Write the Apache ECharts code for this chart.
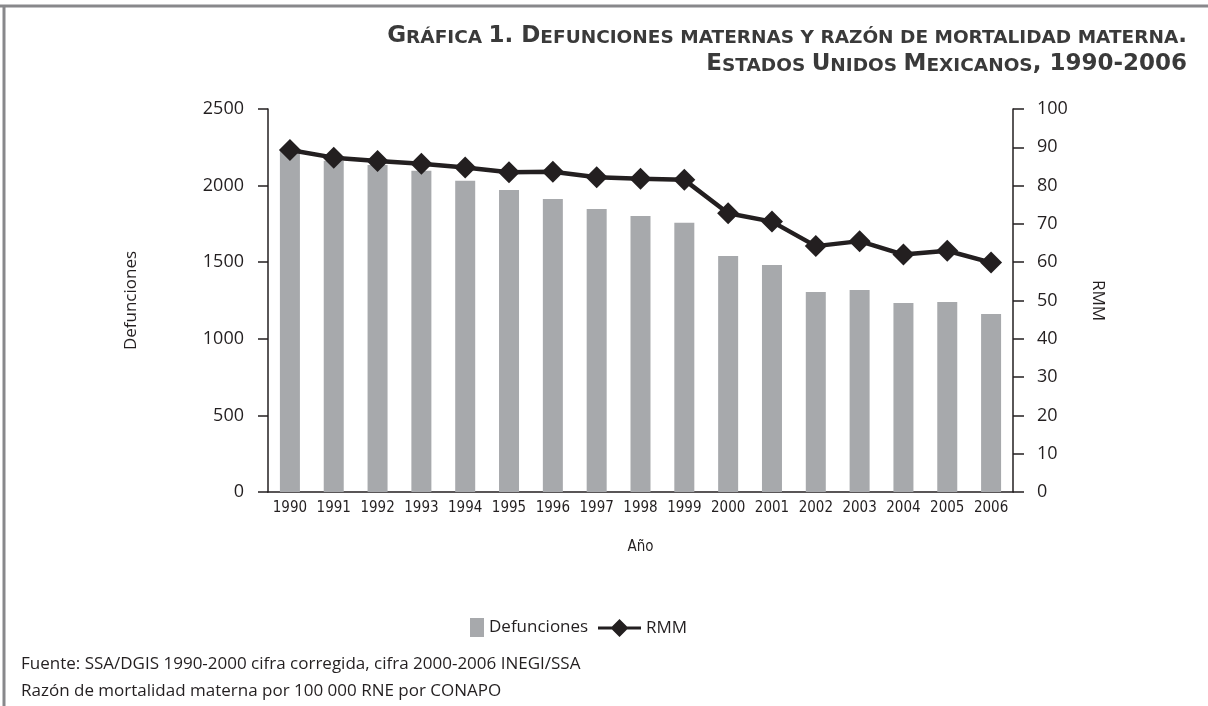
<!DOCTYPE html>
<html>
<head>
<meta charset="utf-8">
<script src="https://cdn.jsdelivr.net/npm/echarts@6/dist/echarts.min.js"></script>
<style>
html,body{margin:0;padding:0;background:#fff;}
#chart{width:1208px;height:706px;}
</style>
</head>
<body>
<div id="chart"></div>
<script>
// ---- data ----
const years = ['1990','1991','1992','1993','1994','1995','1996','1997','1998','1999','2000','2001','2002','2003','2004','2005','2006'];
const defunciones = [2232, 2162, 2134, 2097, 2032, 1971, 1912, 1847, 1801, 1758, 1540, 1481, 1305, 1318, 1233, 1240, 1162];
const rmm = [89.3, 87.3, 86.4, 85.7, 84.7, 83.5, 83.6, 82.2, 81.8, 81.5, 72.8, 70.6, 64.2, 65.5, 62.0, 63.0, 59.9];
const leftAxisRange = [0, 2500];
const leftAxisStep = 500;
const rightAxisRange = [0, 100];
const rightAxisStep = 10;
const titleLines = ['Gráfica 1. Defunciones maternas y razón de mortalidad materna.', 'Estados Unidos Mexicanos, 1990-2006'];
const sourceLines = ['Fuente: SSA/DGIS 1990-2000 cifra corregida, cifra 2000-2006 INEGI/SSA', 'Razón de mortalidad materna por 100 000 RNE por CONAPO'];

// small caps builder for rich text
function smallCaps(line) {
  let out = '', cur = null, buf = '';
  for (const ch of line) {
    const isLower = ch !== ch.toUpperCase();
    const st = isLower ? 's' : (ch === ' ' ? (cur || 's') : 'c');
    if (st !== cur && buf) { out += '{' + cur + '|' + buf + '}'; buf = ''; }
    cur = st; buf += ch.toUpperCase();
  }
  if (buf) out += '{' + cur + '|' + buf + '}';
  return out;
}

const INK = '#231f20';
const FONT = "'Open Sans', 'Noto Sans', sans-serif";
const NARROW = "'Liberation Sans Narrow', 'DejaVu Sans Condensed', 'Open Sans', sans-serif";
const TFONT = "'DejaVu Sans', sans-serif";

const chart = echarts.init(document.getElementById('chart'), null, {renderer: 'canvas'});
chart.setOption({
  animation: false,
  backgroundColor: '#ffffff',
  title: {
    text: titleLines.map(smallCaps).join('\n'),
    left: 1187,
    top: 20,
    textAlign: 'right',
    padding: 0,
    textStyle: {
      rich: {
        c: {fontFamily: TFONT, fontWeight: 'bold', fontSize: 23, color: '#3a3a3a', lineHeight: 28, verticalAlign: 'bottom'},
        s: {fontFamily: TFONT, fontWeight: 'bold', fontSize: 18.5, color: '#3a3a3a', lineHeight: 28, verticalAlign: 'bottom'}
      }
    }
  },
  grid: {left: 268, right: 195, top: 109, bottom: 214, containLabel: false},
  legend: [
    {
      data: [{name: 'Defunciones', icon: 'rect'}], left: 470, top: 618, padding: 0, itemWidth: 14, itemHeight: 19,
      textStyle: {fontFamily: FONT, fontSize: 17, color: INK}
    },
    {
      data: [{name: 'RMM', icon: 'path://M0,7.5 H14 L21.5,0 L29,7.5 H43 V10.5 H29 L21.5,18 L14,10.5 H0 Z'}],
      left: 598, top: 619, padding: 0, itemWidth: 43, itemHeight: 18,
      textStyle: {fontFamily: FONT, fontSize: 17, color: INK}
    }
  ],
  xAxis: {
    type: 'category',
    data: years,
    boundaryGap: true,
    name: 'Año',
    nameLocation: 'middle',
    nameGap: 48,
    nameTextStyle: {fontFamily: NARROW, fontSize: 15, color: INK},
    axisLine: {lineStyle: {color: INK, width: 1.5}},
    axisTick: {show: false},
    axisLabel: {fontFamily: NARROW, fontSize: 15, color: INK, margin: 9, interval: 0}
  },
  yAxis: [
    {
      type: 'value',
      position: 'left',
      min: leftAxisRange[0], max: leftAxisRange[1], interval: leftAxisStep,
      name: 'Defunciones',
      nameLocation: 'middle',
      nameGap: 128,
      nameTextStyle: {fontFamily: FONT, fontSize: 17, color: INK},
      axisLine: {show: true, lineStyle: {color: INK, width: 1.5}},
      axisTick: {show: true, length: 10, lineStyle: {color: INK, width: 1.5}},
      axisLabel: {fontFamily: FONT, fontSize: 18, color: INK, margin: 24, formatter: v => String(v)},
      splitLine: {show: false}
    },
    {
      type: 'value',
      position: 'right',
      min: rightAxisRange[0], max: rightAxisRange[1], interval: rightAxisStep,
      name: 'RMM',
      nameLocation: 'middle',
      nameRotate: -90,
      nameGap: 76,
      nameTextStyle: {fontFamily: FONT, fontSize: 17, color: INK},
      axisLine: {show: true, lineStyle: {color: INK, width: 1.5}},
      axisTick: {show: true, length: 11, lineStyle: {color: INK, width: 1.5}},
      axisLabel: {fontFamily: FONT, fontSize: 18, color: INK, margin: 24, formatter: v => String(v)},
      splitLine: {show: false}
    }
  ],
  series: [
    {
      name: 'Defunciones',
      type: 'bar',
      yAxisIndex: 0,
      data: defunciones,
      barWidth: 20,
      itemStyle: {color: '#a7a9ac'}
    },
    {
      name: 'RMM',
      type: 'line',
      yAxisIndex: 1,
      data: rmm,
      symbol: 'diamond',
      symbolSize: 22,
      lineStyle: {color: INK, width: 4.5},
      itemStyle: {color: INK}
    }
  ],
  graphic: [
    {type: 'line', shape: {x1: 0, y1: 6, x2: 1208, y2: 6}, style: {stroke: '#88888b', lineWidth: 3}, silent: true},
    {type: 'line', shape: {x1: 4, y1: 5, x2: 4, y2: 706}, style: {stroke: '#88888b', lineWidth: 3}, silent: true},
    {type: 'text', left: 21, top: 656, style: {text: sourceLines[0], font: "17px 'Open Sans', sans-serif", fill: INK}},
    {type: 'text', left: 21, top: 683, style: {text: sourceLines[1], font: "17px 'Open Sans', sans-serif", fill: INK}}
  ]
});
</script>
</body>
</html>
